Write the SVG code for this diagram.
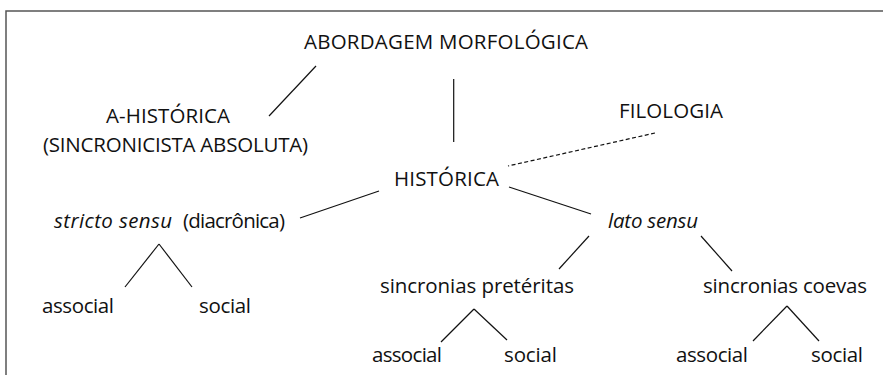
<svg xmlns="http://www.w3.org/2000/svg" width="883" height="375" viewBox="0 0 883 375">
<style>
text{font-family:"Open Sans","Liberation Sans",sans-serif;font-size:20.5px;font-weight:500;fill:#111}
.it{font-style:italic}
.c{stroke:#111;stroke-width:1.2;fill:none}
.d{stroke-dasharray:4 2.5}
</style>
<rect width="883" height="375" fill="#fff"/>
<path d="M6 375V11H883" stroke="#555" stroke-width="1.5" fill="none"/>
<g id="connectors">
<line class="c" x1="316" y1="66" x2="269" y2="116"/>
<line class="c" x1="453.7" y1="79" x2="453.7" y2="142"/>
<line class="c d" x1="655" y1="133" x2="508" y2="166"/>
<line class="c" x1="379" y1="191" x2="300" y2="218"/>
<line class="c" x1="509" y1="187" x2="591" y2="214"/>
<line class="c" x1="159" y1="244" x2="125" y2="287"/>
<line class="c" x1="159" y1="244" x2="192" y2="287"/>
<line class="c" x1="589" y1="236" x2="559" y2="269"/>
<line class="c" x1="701" y1="236" x2="732" y2="271"/>
<line class="c" x1="474" y1="309" x2="441" y2="342"/>
<line class="c" x1="474" y1="309" x2="507" y2="340"/>
<line class="c" x1="787" y1="306" x2="753" y2="341"/>
<line class="c" x1="787" y1="306" x2="819" y2="341"/>
</g>
<g id="n-abordagem"><text x="304" y="49" textLength="284" lengthAdjust="spacing">ABORDAGEM MORFOLÓGICA</text></g>
<g id="n-ahistorica"><text x="106" y="123" textLength="124" lengthAdjust="spacing">A-HISTÓRICA</text><text x="43" y="152" textLength="265" lengthAdjust="spacing">(SINCRONICISTA ABSOLUTA)</text></g>
<g id="n-filologia"><text x="619" y="118" textLength="104" lengthAdjust="spacing">FILOLOGIA</text></g>
<g id="n-historica"><text x="394" y="186" textLength="105" lengthAdjust="spacing">HISTÓRICA</text></g>
<g id="n-stricto"><text class="it" x="54" y="228" textLength="118" lengthAdjust="spacing">stricto sensu</text><text x="183" y="228" textLength="102" lengthAdjust="spacing">(diacrônica)</text></g>
<g id="n-lato"><text class="it" x="608" y="228" textLength="90" lengthAdjust="spacing">lato sensu</text></g>
<g id="n-ss-associal"><text x="42" y="313" textLength="72" lengthAdjust="spacing">associal</text></g>
<g id="n-ss-social"><text x="199" y="313" textLength="52" lengthAdjust="spacing">social</text></g>
<g id="n-preteritas"><text x="380" y="293" textLength="194" lengthAdjust="spacing">sincronias pretéritas</text></g>
<g id="n-coevas"><text x="703" y="293" textLength="164" lengthAdjust="spacing">sincronias coevas</text></g>
<g id="n-p-associal"><text x="372" y="362" textLength="70" lengthAdjust="spacing">associal</text></g>
<g id="n-p-social"><text x="504" y="362" textLength="53" lengthAdjust="spacing">social</text></g>
<g id="n-c-associal"><text x="676" y="362" textLength="72" lengthAdjust="spacing">associal</text></g>
<g id="n-c-social"><text x="811" y="362" textLength="52" lengthAdjust="spacing">social</text></g>
</svg>
